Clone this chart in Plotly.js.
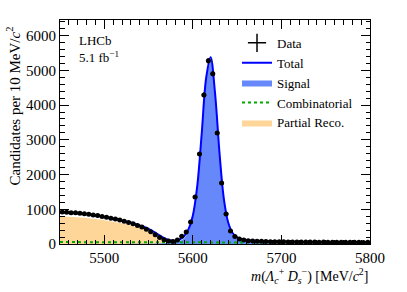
<!DOCTYPE html>
<html>
<head>
<meta charset="utf-8">
<script src="https://cdn.plot.ly/plotly-3.0.1.min.js"></script>
<style>html,body{margin:0;padding:0;background:#fff;}#plot{width:407px;height:292px;}</style>
</head>
<body>
<div id="plot"></div>
<script>
// Data: bin centres (5 MeV bins) and candidate counts
const binCentres = [];
for (let k = 0; k < 70; k++) binCentres.push(5452.5 + 5 * k);
const counts = [
  920, 912, 903, 898, 884, 872, 860, 838, 818, 795,
  768, 745, 722, 690, 655, 620, 582, 535, 487, 425,
  350, 268, 190, 125, 84, 72, 112, 225, 345, 634,
  1354, 2594, 4294, 5274, 4899, 3199, 1758, 865, 375, 215,
  145, 112, 96, 86, 80, 76, 72, 68, 66, 65,
  62, 60, 61, 58, 57, 56, 58, 54, 53, 55,
  52, 51, 50, 52, 49, 48, 50, 47, 46, 47
];

// Fit model evaluated on a 5 MeV grid
const massGrid = [];
for (let k = 0; k <= 70; k++) massGrid.push(5450 + 5 * k);
const totalFit = [
  915, 908, 900, 890, 880, 868, 855, 840, 822, 802,
  780, 757, 733, 707, 680, 650, 617, 580, 538, 490,
  432, 362, 285, 205, 140, 100, 95, 130, 220, 420,
  820, 1680, 3180, 4780, 5380, 4360, 2650, 1300, 610, 310,
  190, 140, 115, 100, 90, 84, 79, 75, 72, 69,
  67, 65, 63, 62, 60, 59, 58, 57, 56, 55,
  54, 53, 52, 51, 51, 50, 49, 49, 48, 47, 47
];
const signalFit = [
  0, 0, 0, 0, 0, 0, 1, 1, 1, 1,
  2, 2, 2, 3, 3, 3, 4, 4, 5, 5,
  6, 8, 12, 18, 26, 38, 55, 85, 160, 360,
  760, 1630, 3130, 4730, 5330, 4310, 2600, 1250, 560, 260,
  140, 90, 65, 50, 40, 34, 29, 25, 22, 20,
  18, 17, 16, 15, 14, 13, 12, 12, 11, 11,
  10, 10, 9, 9, 9, 8, 8, 8, 8, 7, 7
];
const partialFit = [
  800, 795, 788, 780, 772, 762, 750, 737, 722, 705,
  686, 665, 643, 620, 595, 567, 535, 500, 460, 413,
  358, 293, 222, 150, 88, 42, 15, 4, 0, 0,
  0, 0, 0, 0, 0, 0, 0, 0, 0, 0,
  0, 0, 0, 0, 0, 0, 0, 0, 0, 0,
  0, 0, 0, 0, 0, 0, 0, 0, 0, 0,
  0, 0, 0, 0, 0, 0, 0, 0, 0, 0, 0
];
const combFit = [
  55, 55, 54, 54, 54, 53, 53, 53, 52, 52,
  52, 51, 51, 51, 50, 50, 50, 49, 49, 49,
  48, 48, 48, 47, 47, 47, 47, 46, 46, 46,
  46, 45, 45, 45, 45, 44, 44, 44, 44, 43,
  43, 43, 43, 43, 42, 42, 42, 42, 42, 41,
  41, 41, 41, 41, 40, 40, 40, 40, 40, 40,
  39, 39, 39, 39, 39, 39, 38, 38, 38, 38, 38
];
const xTicks = [5500, 5600, 5700, 5800];
const yTicks = [0, 1000, 2000, 3000, 4000, 5000, 6000];

const FONT = 'Liberation Serif, Times New Roman, serif';

const traces = [
  {x: massGrid, y: partialFit, type: 'scatter', mode: 'lines', fill: 'tozeroy',
   fillcolor: 'rgb(255,214,153)', line: {width: 0, color: 'rgb(255,214,153)', shape: 'spline'},
   name: 'Partial Reco.', legendrank: 5},
  {x: massGrid, y: signalFit, type: 'scatter', mode: 'lines', fill: 'tozeroy',
   fillcolor: 'rgb(102,136,250)', line: {width: 0, color: 'rgb(102,136,250)', shape: 'spline'},
   name: 'Signal', legendrank: 3},
  {x: massGrid, y: combFit, type: 'scatter', mode: 'lines',
   line: {width: 2, color: 'rgb(0,170,0)', dash: 'dot'},
   name: 'Combinatorial', legendrank: 4},
  {x: massGrid, y: totalFit, type: 'scatter', mode: 'lines',
   line: {width: 2, color: 'rgb(0,0,255)', shape: 'spline'},
   name: 'Total', legendrank: 2},
  {x: binCentres, y: counts, type: 'scatter', mode: 'markers',
   marker: {color: 'black', size: 5},
   error_y: {type: 'sqrt', color: 'black', thickness: 2, width: 0},
   error_x: {type: 'constant', value: 2.5, color: 'black', thickness: 2, width: 0},
   showlegend: false},
  {x: [null], y: [null], type: 'scatter', mode: 'markers',
   marker: {symbol: 'cross-thin-open', size: 13, line: {width: 1.5, color: 'black'}, color: 'black'},
   name: 'Data', legendrank: 1}
];

const layout = {
  width: 407, height: 292,
  margin: {l: 60, r: 37, t: 20, b: 48},
  paper_bgcolor: 'white', plot_bgcolor: 'white',
  font: {family: FONT, size: 14, color: 'black'},
  showlegend: true,
  legend: {x: 0.571, y: 0.965, xanchor: 'left', yanchor: 'top', bgcolor: 'rgba(0,0,0,0)',
           font: {family: FONT, size: 13}, tracegroupgap: 0, itemwidth: 30},
  xaxis: {range: [5450, 5800], tickvals: xTicks, ticktext: xTicks.map(String),
          ticks: 'inside', ticklen: 9, tickwidth: 1, tickcolor: 'black',
          showline: true, linecolor: 'black', linewidth: 1, mirror: 'allticks',
          showgrid: false, zeroline: false,
          minor: {dtick: 10, tick0: 5450, ticks: 'inside', ticklen: 4.5, tickcolor: 'black', showgrid: false},
          tickfont: {family: FONT, size: 15}},
  yaxis: {range: [0, 6450], tickvals: yTicks, ticktext: yTicks.map(String),
          ticks: 'inside', ticklen: 9, tickwidth: 1, tickcolor: 'black',
          showline: true, linecolor: 'black', linewidth: 1, mirror: 'allticks',
          showgrid: false, zeroline: false,
          minor: {dtick: 200, tick0: 0, ticks: 'inside', ticklen: 4.5, tickcolor: 'black', showgrid: false},
          tickfont: {family: FONT, size: 15}},
  annotations: [
    {text: 'LHCb', xref: 'paper', yref: 'paper', x: 0.055, y: 0.91, xanchor: 'left', yanchor: 'middle',
     showarrow: false, font: {family: FONT, size: 13}},
    {text: '5.1 fb<sup>−1</sup>', xref: 'paper', yref: 'paper', x: 0.055, y: 0.835, xanchor: 'left', yanchor: 'middle',
     showarrow: false, font: {family: FONT, size: 13}},
    {text: '<i>m</i>(<i>Λ</i><sub><i>c</i></sub><sup>+</sup> <i>D</i><sub><i>s</i></sub><sup>−</sup>) [MeV/<i>c</i><sup>2</sup>]',
     xref: 'paper', yref: 'paper', x: 1.0, y: -0.09, xanchor: 'right', yanchor: 'top',
     showarrow: false, font: {family: FONT, size: 14}},
    {text: 'Candidates per 10 MeV/<i>c</i><sup>2</sup>', xref: 'paper', yref: 'paper',
     x: -0.15, y: 0.616, xanchor: 'center', yanchor: 'middle', textangle: -90,
     showarrow: false, font: {family: FONT, size: 15}}
  ]
};

Plotly.newPlot('plot', traces, layout, {staticPlot: true, displayModeBar: false});
</script>
</body>
</html>
